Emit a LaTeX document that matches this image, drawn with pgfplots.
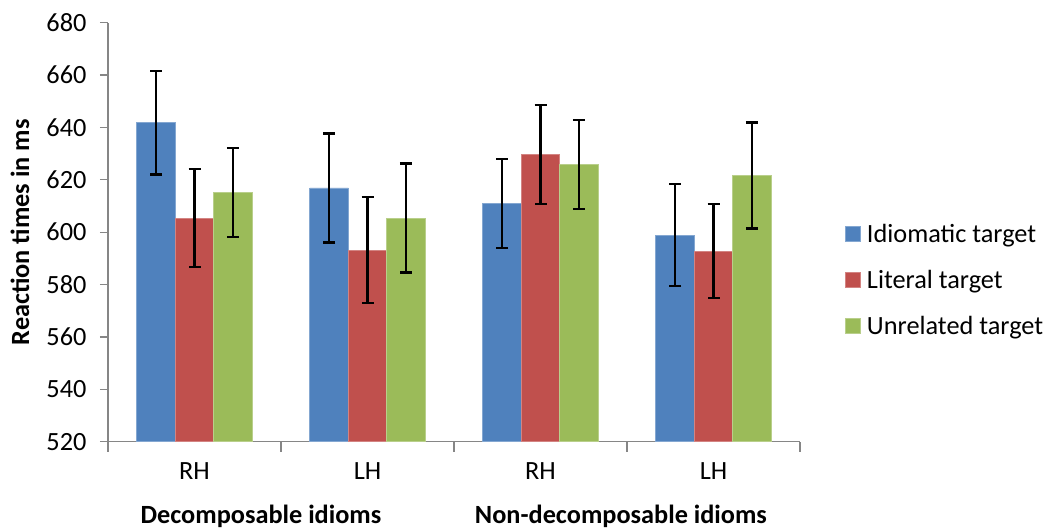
\documentclass[border=0pt]{standalone}
\usepackage{pgfplots}
\pgfplotsset{compat=1.18}
\usepackage{fontspec}
\setmainfont{Carlito}
\definecolor{cblue}{RGB}{79,129,189}
\definecolor{cred}{RGB}{192,80,77}
\definecolor{cgreen}{RGB}{155,187,89}
\definecolor{axgray}{RGB}{134,134,134}
\newcommand\cf{\fontsize{26.3bp}{31bp}\selectfont}
\begin{document}
\begin{tikzpicture}
\useasboundingbox (0,0) rectangle (1058bp,-530bp);
\begin{axis}[
  at={(108bp,-22.7bp)}, anchor=north west,
  scale only axis, width=692bp, height=419bp,
  ybar, bar width=0.222,
  xmin=-0.5, xmax=3.5, ymin=520, ymax=680,
  ytick={520,540,...,680},
  xtick={0,1,2,3}, xticklabels={RH,LH,RH,LH},
  minor xtick={-0.5,0.5,1.5,2.5,3.5},
  axis x line*=bottom, axis y line*=left,
  axis line style={axgray, line width=1.2bp},
  tick align=outside,
  major x tick style={draw=none},
  minor x tick style={axgray, line width=1.2bp},
  ytick style={axgray, line width=1.2bp},
  major tick length=8bp, minor tick length=10bp,
  /pgf/number format/assume math mode=true,
  tick label style={font=\cf},
  yticklabel style={xshift=-10bp},
  xticklabel style={yshift=-9bp},
  ylabel={\bfseries Reaction times in ms},
  every axis y label/.style={at={(axis description cs:-0.1272,0.5)}, rotate=90, anchor=center, font=\cf},
  clip=false,
  legend style={draw=none, font=\cf, at={(axis description cs:1.065,0.386)}, anchor=west, inner sep=0pt, row sep=22bp},
  legend cell align=left,
  legend image code/.code={\fill[#1] (0bp,-7.5bp) rectangle (15bp,7.5bp); \node[inner sep=0pt, minimum width=19bp, minimum height=1bp, anchor=west, opacity=0] at (0bp,0bp) {};},
  error bars/y dir=both, error bars/y explicit,
  error bars/error bar style={black, line width=2.5bp},
  error bars/error mark options={rotate=90, mark size=6bp, line width=2.5bp, black},
]
\addplot[fill=cblue, draw=cblue!70!white, line width=0.8bp, bar shift=-0.222] coordinates {
  (0,641.8) +- (0,19.7)
  (1,616.9) +- (0,20.8)
  (2,611.0) +- (0,17.0)
  (3,598.9) +- (0,19.5)
};
\addplot[fill=cred, draw=cred!70!white, line width=0.8bp, bar shift=0] coordinates {
  (0,605.4) +- (0,18.7)
  (1,593.2) +- (0,20.2)
  (2,629.6) +- (0,18.9)
  (3,592.8) +- (0,18.0)
};
\addplot[fill=cgreen, draw=cgreen!70!white, line width=0.8bp, bar shift=0.222] coordinates {
  (0,615.2) +- (0,17.0)
  (1,605.4) +- (0,20.8)
  (2,625.9) +- (0,17.0)
  (3,621.7) +- (0,20.2)
};
\legend{Idiomatic target, Literal target, Unrelated target}
\node[font=\cf\bfseries, anchor=center] at (axis cs:0.384,520) [yshift=-75bp] {Decomposable idioms};
\node[font=\cf\bfseries, anchor=center] at (axis cs:2.465,520) [yshift=-75bp] {Non-decomposable idioms};
\end{axis}
\end{tikzpicture}
\end{document}
